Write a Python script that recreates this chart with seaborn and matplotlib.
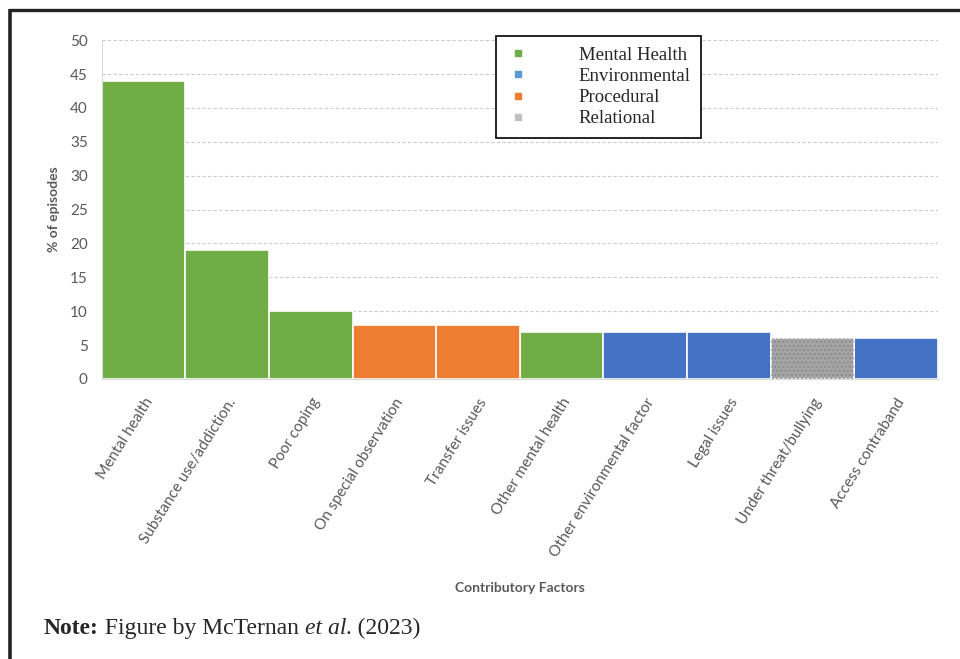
import matplotlib.pyplot as plt
import pandas as pd
import seaborn as sns
from matplotlib.lines import Line2D

factors = [
    "Mental health", "Substance use/addiction.", "Poor coping",
    "On special observation", "Transfer issues", "Other mental health",
    "Other environmental factor", "Legal issues", "Under threat/bullying",
    "Access contraband",
]
pct = [44, 19, 10, 8, 8, 7, 7, 7, 6, 6]
group = [
    "Mental Health", "Mental Health", "Mental Health", "Procedural",
    "Procedural", "Mental Health", "Environmental", "Environmental",
    "Relational", "Environmental",
]
groups = ["Mental Health", "Environmental", "Procedural", "Relational"]
bar_colors = {"Mental Health": "#70AD47", "Environmental": "#4472C4",
              "Procedural": "#ED7D31", "Relational": "#A5A5A5"}
legend_colors = {"Mental Health": "#70AD47", "Environmental": "#5B9BD5",
                 "Procedural": "#ED7D31", "Relational": "#BFBFBF"}

df = pd.DataFrame({"factor": factors, "pct": pct, "group": group})

sns.set_style("white")
plt.rcParams["font.family"] = ["Lato", "DejaVu Sans"]

fig = plt.figure(figsize=(9.6, 6.59), dpi=100)
ax = fig.add_axes([0.106, 0.425, 0.871, 0.514])

sns.barplot(data=df, x="factor", y="pct", hue="group", palette=bar_colors,
            dodge=False, width=1.0, saturation=1, edgecolor="white",
            linewidth=1.2, legend=False, ax=ax, zorder=2)

# dotted texture on the relational bar
for patch in list(ax.patches):
    idx = int(round(patch.get_x() + patch.get_width() / 2))
    if group[idx] == "Relational":
        ax.bar(idx, patch.get_height(), width=patch.get_width(),
               facecolor="none", edgecolor="#8c8c8c", hatch="....",
               linewidth=0, zorder=3)

ax.set_ylim(0, 50)
ax.set_xlim(-0.5, len(factors) - 0.5)
ax.set_yticks(range(0, 51, 5))
ax.yaxis.grid(True, color="#cccccc", linestyle=(0, (3, 2)), linewidth=0.8, zorder=0)
for s in ["top", "right"]:
    ax.spines[s].set_visible(False)
ax.spines["left"].set_color("#d9d9d9")
ax.spines["bottom"].set_color("#d9d9d9")
ax.tick_params(axis="y", length=0, colors="#595959", labelsize=11, pad=10)
ax.tick_params(axis="x", length=0, colors="#595959", pad=12)
ax.set_xticks(range(len(factors)))
ax.set_xticklabels(factors, rotation=58, ha="right", rotation_mode="anchor",
                   fontsize=11, color="#595959")

ax.set_ylabel("% of episodes", fontsize=10, fontweight="bold", color="#595959", labelpad=7)
ax.set_xlabel("")
fig.text(0.542, 0.107, "Contributory Factors", fontsize=10, fontweight="bold",
         color="#595959", ha="center", va="center")

handles = [Line2D([], [], marker="s", linestyle="none", markersize=5,
                  color=legend_colors[g]) for g in groups]
leg = ax.legend(handles, groups, loc="upper left", bbox_to_anchor=(0.472, 1.012),
                frameon=True, fancybox=False, edgecolor="black", framealpha=1,
                prop={"family": "Liberation Serif", "size": 13.5},
                handletextpad=2.65, labelspacing=0.22, borderpad=0.55,
                handlelength=1.2, borderaxespad=0)
leg.get_frame().set_linewidth(1.2)
leg.set_zorder(5)

# note line, pieces placed one after another
serif = {"fontsize": 17, "family": "Liberation Serif", "va": "center"}
pieces = [("Note:", {"fontweight": "bold"}), (" Figure by McTernan ", {}),
          ("et al", {"style": "italic"}), (". (2023)", {})]
renderer = fig.canvas.get_renderer()
x = 44
for txt, extra in pieces:
    t = fig.text(x / 960, 0.047, txt, **serif, **extra)
    x = t.get_window_extent(renderer).x1

# outer frame
fig.add_artist(Line2D([0.009, 1.0], [0.985, 0.985], color="#222222", linewidth=2.4,
                      solid_capstyle="butt", transform=fig.transFigure))
fig.add_artist(Line2D([0.010, 0.010], [0.0, 0.986], color="#222222", linewidth=2.6,
                      solid_capstyle="butt", transform=fig.transFigure))

fig.savefig("out.png", dpi=100)
